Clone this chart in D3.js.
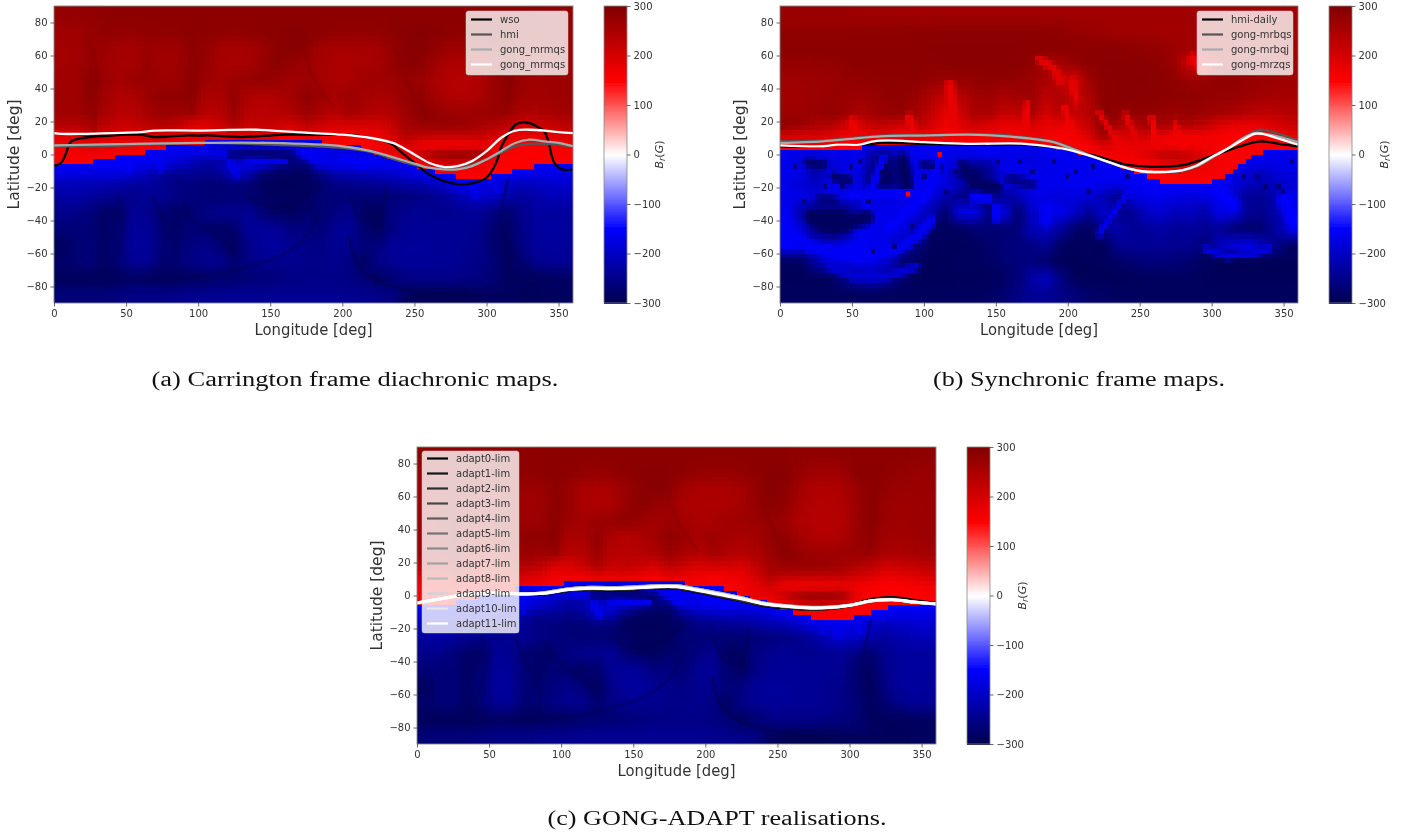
<!DOCTYPE html>
<html><head><meta charset="utf-8">
<script src="https://cdn.jsdelivr.net/npm/d3@7/dist/d3.min.js"></script>
<style>html,body{margin:0;background:#fff}svg{display:block}text{font-family:"DejaVu Sans",sans-serif}</style>
</head><body><svg id="c" width="1422" height="838"></svg>
<script>
// ---------- values ----------
const xTicks=[0,50,100,150,200,250,300,350];
const yTicks=[-80,-60,-40,-20,0,20,40,60,80];
const cbarTicks=[-300,-200,-100,0,100,200,300];
const captions=["(a) Carrington frame diachronic maps.","(b) Synchronic frame maps.","(c) GONG-ADAPT realisations."];
const xLabel="Longitude [deg]", yLabel="Latitude [deg]";

// |Br| in gauss. columns: lon 5,15..355. rows: fieldLats
const fieldLats=[85,75,65,55,45,35,25,18,12,6,0,-6,-12,-18,-25,-35,-45,-55,-65,-75,-85];
const fieldATop=[
[275,278,280,282,284,284,284,284,284,284,284,284,284,284,284,284,284,284,284,284,284,284,284,284,284,284,284,284,284,284,284,284,282,280,278,276],
[262,264,272,280,278,278,280,282,282,286,286,284,282,284,286,288,290,290,286,282,280,280,282,286,290,292,290,286,284,286,288,286,280,275,272,270],
[258,262,272,268,258,258,270,265,265,282,278,258,254,258,268,286,290,284,262,255,255,255,258,275,290,290,278,268,268,274,282,286,278,268,268,268],
[258,262,276,262,255,256,272,262,262,282,274,255,250,255,272,288,276,266,255,250,250,250,256,274,288,286,262,248,246,250,272,286,270,264,266,268],
[262,264,286,270,258,268,274,265,266,286,268,258,268,274,280,270,258,268,258,248,250,264,264,268,274,268,250,240,238,244,268,286,268,264,266,266]];
const fieldCTop=[
[284,284,284,284,284,284,284,284,284,285,285,285,285,285,285,285,285,285,285,285,285,285,285,285,285,285,282,280,280,282,284,284,284,284,282,280],
[268,270,274,280,280,280,282,284,284,286,286,280,275,280,286,288,290,288,284,278,275,275,280,286,290,290,274,264,262,268,286,286,282,278,274,272],
[262,264,272,268,262,262,272,268,268,282,274,252,248,252,268,286,290,284,258,250,250,250,256,275,290,286,262,245,242,248,272,286,278,268,268,272],
[262,264,276,264,258,258,272,264,264,282,272,250,246,250,272,288,276,266,250,248,248,248,256,274,288,282,252,240,240,244,268,286,270,264,266,268],
[264,266,286,270,262,268,274,266,268,286,268,258,268,274,280,270,258,268,258,250,250,262,264,268,274,268,246,238,236,240,268,286,268,264,266,268]];
const fieldACBelow=[
[264,264,286,262,242,246,268,280,282,286,250,250,276,246,240,246,260,282,268,254,268,258,250,258,276,280,258,244,240,250,270,282,262,260,264,268],
[262,260,276,254,235,236,254,268,266,266,235,235,266,235,230,235,246,266,250,234,256,244,235,245,266,286,276,266,266,266,268,266,248,246,252,258],
[238,240,250,232,215,215,232,240,230,195,188,212,246,214,224,214,198,230,212,196,202,202,198,222,258,268,272,272,268,254,244,230,205,212,222,228],
[190,195,220,205,190,195,205,205,190,168,175,170,185,180,185,175,164,185,175,170,158,170,170,205,242,232,226,226,226,226,208,195,175,180,190,200],
[165,170,185,175,170,175,175,170,160,160,165,170,170,175,175,170,165,170,170,158,155,155,165,180,200,165,160,158,160,170,165,160,155,155,160,165],
[160,165,170,165,160,160,158,165,170,175,200,230,270,285,290,290,265,165,165,180,178,165,165,175,175,225,265,280,280,265,175,155,155,155,155,155],
[155,155,155,152,152,158,165,170,190,210,230,215,175,180,185,230,262,262,170,160,160,160,158,158,155,152,190,200,200,180,150,150,150,152,155,155],
[175,175,180,178,178,190,210,235,245,240,250,240,200,210,270,285,285,285,250,220,210,205,205,195,185,165,155,152,150,150,150,150,165,170,170,170],
[210,210,210,215,220,230,230,238,258,258,265,265,258,265,285,288,288,285,272,252,248,242,238,230,220,215,200,172,168,168,178,198,210,200,195,190],
[228,222,232,240,246,246,240,240,254,258,265,268,265,270,278,286,286,286,268,265,265,268,265,265,258,254,244,230,205,190,195,220,230,220,210,210],
[250,250,260,278,278,240,246,268,278,272,255,246,246,240,268,282,286,272,272,258,246,282,286,254,245,240,245,245,240,240,258,272,245,232,232,232],
[265,264,266,282,268,234,236,268,278,265,272,282,272,238,234,240,258,258,265,240,238,268,286,254,240,238,238,240,240,245,272,282,250,232,232,232],
[286,268,265,278,265,234,236,265,272,258,250,265,286,250,232,232,244,250,254,245,245,265,258,238,235,235,238,240,244,250,272,286,254,235,232,235],
[278,268,265,282,265,238,240,272,265,254,246,246,272,254,244,245,245,250,250,245,254,282,250,240,236,236,240,240,244,252,265,286,268,245,238,240],
[286,286,286,288,286,282,284,288,286,284,280,275,270,268,265,258,254,252,252,252,256,265,284,268,254,250,250,250,254,258,268,286,286,286,282,280],
[265,265,265,265,258,254,254,252,250,246,245,242,242,242,242,242,242,242,242,242,245,246,250,258,285,290,292,292,290,286,282,280,288,290,286,286]];
const fieldB=[
[268,268,268,268,268,265,265,264,264,262,262,262,262,262,262,262,262,262,262,262,262,262,262,262,262,262,262,262,262,262,262,262,262,262,262,262],
[280,280,280,280,280,282,282,282,282,284,284,286,286,286,286,286,286,286,282,278,274,270,266,262,262,260,260,260,258,258,258,258,258,258,258,258],
[286,286,286,286,286,286,286,286,286,286,288,288,288,288,288,288,288,286,288,288,286,286,286,286,282,278,274,266,260,256,250,250,256,256,256,256],
[274,274,276,278,282,286,286,286,286,286,286,288,288,288,288,288,286,282,250,258,276,286,288,288,288,286,282,264,205,180,236,264,274,268,266,264],
[266,266,266,268,274,278,280,282,282,284,274,268,276,278,282,280,278,266,255,218,200,264,286,288,288,288,286,278,268,274,278,278,274,268,266,264],
[262,262,266,272,272,266,272,280,282,268,245,218,232,260,266,250,260,266,232,246,218,246,284,288,288,286,286,284,282,278,275,274,264,260,255,255],
[266,266,272,278,266,250,260,274,274,255,222,180,206,250,250,222,222,250,202,232,222,236,286,278,278,278,274,266,272,266,255,246,236,226,232,236],
[278,272,245,245,210,195,226,222,206,240,206,168,190,210,196,175,175,196,175,180,185,222,286,245,240,254,254,245,245,226,195,180,175,180,196,215],
[210,200,205,190,168,168,180,175,168,180,168,162,168,168,168,168,168,175,168,162,162,200,266,195,200,210,180,162,162,168,160,155,155,155,162,180],
[165,165,165,160,158,158,155,158,158,158,158,158,158,155,155,155,158,158,155,155,155,160,200,170,175,170,165,160,160,165,155,155,155,155,155,158],
[170,175,180,168,165,172,235,245,170,165,160,165,175,165,160,170,170,180,165,160,162,158,160,165,170,190,225,230,215,185,160,155,155,160,168,170],
[165,180,235,190,175,165,250,275,230,165,165,170,190,235,225,170,165,175,170,165,160,165,162,158,155,155,170,190,195,175,160,155,165,170,170,170],
[165,170,225,180,165,175,270,285,240,170,165,170,260,285,245,175,170,165,165,165,165,162,160,155,155,152,155,160,165,160,155,175,190,210,185,175],
[170,190,200,170,165,175,262,280,235,170,160,175,200,285,250,180,170,165,165,165,160,160,165,168,160,155,150,150,150,150,158,175,200,215,200,190],
[165,170,185,165,165,180,180,180,170,165,170,215,250,262,270,240,215,175,170,185,175,180,210,240,175,165,165,170,180,170,165,200,235,240,215,165],
[160,225,275,285,280,205,165,165,165,170,215,275,175,165,255,165,270,200,165,165,200,240,190,250,240,200,190,210,200,225,170,175,240,245,220,165],
[155,180,270,285,265,165,165,170,170,220,280,285,285,270,265,270,265,210,200,230,275,285,240,220,240,235,225,240,235,240,240,265,275,270,230,175],
[150,160,165,180,160,155,165,170,225,255,285,288,288,285,275,265,260,255,240,280,288,285,290,245,240,240,240,245,245,265,205,180,165,200,250,280],
[285,285,220,175,170,165,175,190,265,285,290,288,285,285,280,270,260,260,275,290,290,290,285,280,270,262,262,265,270,285,290,290,290,290,290,290],
[290,290,290,285,250,225,215,240,270,288,290,290,288,288,288,285,265,225,205,255,288,290,290,290,290,285,285,285,285,288,290,290,290,290,290,290],
[285,285,285,285,285,285,285,285,285,285,285,285,285,285,280,270,255,240,240,250,265,275,280,285,285,285,285,285,285,285,285,285,285,285,285,285]];

// polarity boundary (lat) at lon 0,10..360
const boundaryA=[-7,-6,-6,-4,-2,0,1,3,5,5.5,6,8.5,8.5,8.5,8.5,8.5,8.5,8.5,8.5,7,6,5,2,-1,-4,-7,-10,-12,-14,-14,-14,-12,-10,-8,-6.5,-6.5,-6.5];
const boundaryB=[3,3,3,3,3,3,5,6,6,6,6,6,6,6,6,6,6,6,6,5,3,1,-2,-5,-8,-12,-15,-18,-18.5,-18.5,-17,-13,-7,0,3,3,3];
const boundaryC=[-7,-6,-6,-4,-2,0,2,5,5,7,7,8.5,8.5,8.5,8.5,8.5,8.5,8.5,8.5,7,6,5,2,-1,-4,-7,-10,-13,-14.5,-14.5,-14.5,-12,-9,-7,-6,-6,-6];

// soft dark structures of the field (lon, lat, value, width px)
const veinsAC=[
 {lon:[205,208,218,235,255,285,320],lat:[-50,-62,-73,-80,-83,-85,-85],v:-295,w:2.4,o:.75},
 {lon:[0,40,80,115,140,160,175,182],lat:[-78,-78,-76,-72,-67,-60,-50,-38],v:-290,w:2.5,o:.55},
 {lon:[45,48,43,35],lat:[-25,-40,-60,-75],v:-285,w:3.5,o:.4},
 {lon:[68,78,85,82],lat:[-25,-45,-60,-75],v:-285,w:3.5,o:.4},
 {lon:[90,95,105,120,125],lat:[-28,-38,-45,-55,-60],v:-290,w:3,o:.5},
 {lon:[135,150,170,185],lat:[-25,-32,-28,-18],v:-295,w:3,o:.5},
 {lon:[205,212,220,228,230],lat:[-25,-38,-42,-35,-20],v:-290,w:3,o:.5},
 {lon:[315,310,318,335,358],lat:[-15,-40,-60,-72,-78],v:-285,w:2.8,o:.55},
 {lon:[28,29,30,24],lat:[12,35,50,70],v:290,w:4,o:.35},
 {lon:[95,98,96],lat:[75,50,25],v:290,w:4,o:.35},
 {lon:[172,178,194],lat:[72,50,28],v:292,w:4,o:.35},
 {lon:[236,246,258],lat:[65,42,22],v:292,w:4,o:.35},
 {lon:[316,318,312],lat:[75,48,25],v:292,w:4,o:.35}];

// fine pixel structures blended into the cell grid (width in degrees)
const pixelsAC=[
 {lon:[135,160],lat:[-4,-4.5],v:-165,w:3},{lon:[122,127],lat:[-5,-12],v:-165,w:3},{lon:[172,182],lat:[3,-3],v:-160,w:7},
 {lon:[100,118],lat:[2,0],v:-170,w:4},{lon:[290,292],lat:[-15,-24],v:-165,w:4},{lon:[305,308],lat:[-13,-22],v:-170,w:4},
 {lon:[278,282],lat:[-17,-22],v:-175,w:3},{lon:[72,74],lat:[0,-9],v:-160,w:3},{lon:[50,52],lat:[-3,-10],v:-155,w:3},
 {lon:[200,215],lat:[-2,-6],v:-155,w:3}];
const pixelsB=[
 {lon:[0,5,20,40,60,80,95,105],lat:[-35,-47,-55,-60,-62,-58,-50,-40],v:-155,w:6},
 {lon:[35,50,75,95],lat:[-68,-74,-74,-68],v:-185,w:4},
 {lon:[75,88,100],lat:[-45,-35,-25],v:-152,w:3},
 {lon:[222,232,243],lat:[-48,-35,-22],v:-165,w:2},
 {lon:[295,310,330,340],lat:[-57,-62,-60,-57],v:-175,w:3},
 {lon:[85,88],lat:[-3,-19],v:-285,w:9},{lon:[20,30],lat:[-5,-6],v:-270,w:5},{lon:[38,48],lat:[-14,-16],v:-275,w:5},
 {lon:[28,38],lat:[-27,-28],v:-260,w:5},{lon:[22,38,60],lat:[-38,-44,-38],v:-285,w:9},{lon:[100,110],lat:[-6,-8],v:-260,w:5},
 {lon:[128,135],lat:[-8,-17],v:-280,w:7},{lon:[142,152],lat:[-19,-20],v:-285,w:5},{lon:[160,175],lat:[-15,-18],v:-250,w:6},
 {lon:[100,112],lat:[-28,-2],v:-152,w:3},{lon:[60,66,72],lat:[-30,-15,-2],v:-152,w:4},{lon:[95,70,50],lat:[-22,-24,-25],v:-152,w:4},
 {lon:[150,150],lat:[-33,-38],v:-150,w:6},{lon:[185,185],lat:[-33,-40],v:-155,w:6},{lon:[135,145],lat:[-26,-27],v:-150,w:5},
 {lon:[305,315],lat:[-22,-30],v:-150,w:8},{lon:[350,358],lat:[-28,-42],v:-150,w:8},
 {lon:[180,190,195],lat:[58,52,45],v:180,w:4},{lon:[203,206],lat:[44,33],v:175,w:3},{lon:[287,296],lat:[58,52],v:170,w:6},
 {lon:[118,122],lat:[42,12],v:175,w:5},{lon:[172,170],lat:[30,12],v:170,w:4},{lon:[198,203],lat:[28,10],v:165,w:3},
 {lon:[222,236],lat:[25,6],v:175,w:2},{lon:[240,250],lat:[24,6],v:180,w:2},{lon:[258,262],lat:[22,5],v:165,w:2},{lon:[275,280],lat:[18,4],v:165,w:2},
 {lon:[90,94],lat:[22,10],v:170,w:5},{lon:[50,54],lat:[20,10],v:170,w:5}];
const speckLonB=[50,70,10,42,100,120,165,175,205,345,350,355,330,338,60,115,90,80,65,30,15,55,125,150,190,200,217,240,215,322];
const speckLatB=[-9,-12,-8,-21,-14,-12,-6,-12,-10,-21,-24,-5,-13,-20,-30,-22,-43,-55,-60,-20,-28,-6,-4,-6,-5,-15,-8,-14,-22,-15];
const spotsB=[{lon:111,lat:0,v:150},{lon:89,lat:-24,v:150}];

// neutral lines
const wsoLon=[0,5,8,10,12,20,30,40,50,60,70,80,90,100,110,120,130,140,150,160,170,180,190,200,210,220,230,235,240,250,260,270,280,290,300,305,308,310,315,320,325,330,335,340,343,345,347,350,355,360];
const wsoLat=[-7,-5,0,5,8,10,11,11.5,12,12,10.5,11,11.5,11.5,11.5,11,10.5,11,11.5,12,12,12,12,12,11.5,10,8,6,2,-5,-12,-16,-18,-17.5,-14,-8,-2,4,12,18,19.5,19,17,14,8,0,-5,-8,-9.5,-9];
const hmiLon=[0,30,50,100,150,200,220,240,260,280,300,310,320,330,340,360];
const hmiLat=[5,5,5.5,7,6,4,1.5,-4,-8,-8.5,-3,1,5,6.5,6.5,5];
const mrmqsGreyLon=[0,100,150,200,220,240,250,260,270,280,290,300,310,320,330,340,350,360];
const mrmqsGreyLat=[5.5,7,7,5,2,-3,-5.5,-8,-9,-9,-7,-3,2,7,9,8,7,5];
const mrmqsWhiteLon=[0,5,20,40,60,70,100,140,160,180,200,220,235,240,250,260,270,280,290,300,310,320,330,340,350,360];
const mrmqsWhiteLat=[13,12.5,12.5,13,13.5,14.5,14.5,15,14,13,12,10,7,5,0,-5,-7.5,-7,-4,2,10,14.5,15,14.5,13.5,13];

const dailyLon=[0,30,40,60,70,100,130,170,190,200,220,240,250,260,280,290,300,310,320,330,335,350,360];
const dailyLat=[5,5,6,6,7,6.5,6,6,4.5,3,-1,-6,-7,-7.5,-6.5,-4,-1,2,5,7.5,8,6,5];
const mrbqsLon=[0,30,50,70,100,110,130,150,170,190,200,220,240,250,260,270,280,290,300,310,320,330,335,345,360];
const mrbqsLat=[8,8.5,10,11.5,12,11.5,12.5,12,10.5,8,5,-2,-8,-10,-11,-11,-10,-7,-2,3,9,14,15,13,8.5];
const mrbqjLon=[0,30,50,70,100,130,150,170,190,200,220,240,250,260,270,280,290,300,310,320,330,340,350,360];
const mrbqjLat=[7,8,9.5,11,11.5,12,11.5,10,7.5,4.5,-2,-8,-10,-11,-10.5,-9.5,-7,-2,3,9,13,12,10,7.5];
const mrzqsLon=[0,30,40,55,65,75,100,130,170,190,200,220,240,250,260,270,280,290,300,310,320,330,335,345,360];
const mrzqsLat=[5.5,5,6,6,8,8.5,7.5,6.5,6.5,4.5,3,-2,-8,-10,-10.5,-10.5,-9.5,-6.5,-1.5,3,8,12.5,12.5,10,6];

const adaptLon=[0,15,30,45,60,75,90,105,120,135,150,165,180,195,210,225,240,255,270,285,300,315,330,345,360];
const adapt0 =[-4.2,-2.0,0.2,1.5,1.7,1.0,1.2,2.8,3.6,3.3,3.7,4.4,4.4,2.0,-0.7,-3.3,-6.1,-7.5,-8.3,-8.1,-6.0,-2.4,-1.2,-3.0,-4.6];
const adapt1 =[-4.4,-2.1,0.1,1.4,1.6,0.9,1.2,3.0,3.7,3.5,3.9,4.5,4.6,2.3,-0.5,-3.1,-5.9,-7.3,-8.2,-8.0,-6.1,-2.8,-1.7,-3.4,-4.8];
const adapt2 =[-4.5,-2.3,0.0,1.3,1.6,0.8,1.3,3.1,3.8,3.6,4.0,4.7,4.7,2.5,-0.3,-2.9,-5.7,-7.2,-8.1,-8.0,-6.1,-3.0,-2.0,-3.7,-4.9];
const adapt3 =[-4.3,-2.2,0.2,1.5,1.5,0.9,1.6,3.6,4.4,4.2,4.6,5.3,5.3,3.1,0.3,-2.3,-5.2,-6.7,-7.6,-7.6,-6.2,-3.3,-2.3,-3.8,-4.8];
const adapt4 =[-4.6,-2.3,0.0,1.2,1.5,0.8,1.8,3.9,4.7,4.5,4.9,5.6,5.6,3.5,0.8,-1.8,-4.8,-6.3,-7.3,-7.2,-6.0,-3.2,-2.5,-4.0,-5.0];
const adapt5 =[-4.5,-2.1,0.1,1.4,1.6,1.0,2.0,4.1,5.0,4.8,5.2,5.9,5.9,3.7,1.1,-1.6,-4.6,-6.2,-7.2,-7.1,-6.0,-3.4,-2.6,-4.1,-5.1];
const adapt6 =[-4.7,-2.4,-0.1,1.2,1.4,0.7,1.9,4.0,5.0,4.8,5.2,5.9,6.0,3.9,1.4,-1.3,-4.3,-6.0,-7.0,-7.0,-6.1,-3.5,-2.7,-4.2,-5.2];
const adapt7 =[-4.4,-2.2,0.2,1.4,1.7,1.1,2.1,4.2,5.1,4.9,5.3,6.0,6.0,3.9,1.4,-1.3,-4.4,-6.0,-7.1,-7.0,-5.9,-3.3,-2.6,-4.1,-5.0];
const adapt8 =[-4.6,-2.3,0.0,1.3,1.5,0.9,1.9,4.0,4.9,4.7,5.1,5.8,5.9,3.8,1.4,-1.3,-4.4,-6.1,-7.1,-7.1,-6.0,-3.4,-2.7,-4.1,-5.1];
const adapt9 =[-4.5,-2.2,0.1,1.4,1.6,1.0,1.6,3.7,4.5,4.3,4.7,5.4,5.5,3.4,1.0,-1.7,-4.8,-6.4,-7.4,-7.3,-5.9,-3.3,-2.6,-4.0,-5.0];
const adapt10=[-4.4,-2.1,0.2,1.5,1.6,1.0,1.6,3.6,4.4,4.2,4.6,5.3,5.4,3.2,0.8,-1.8,-4.9,-6.5,-7.5,-7.4,-6.0,-3.3,-2.5,-4.0,-5.0];
const adapt11=[-4.5,-2.2,0.0,1.3,1.5,0.8,1.5,3.5,4.3,4.1,4.5,5.2,5.2,3.0,0.5,-2.0,-5.0,-6.5,-7.5,-7.4,-6.0,-3.2,-2.5,-4.0,-5.0];

const seriesA=[["wso",wsoLon,wsoLat],["hmi",hmiLon,hmiLat],["gong_mrmqs",mrmqsGreyLon,mrmqsGreyLat],["gong_mrmqs",mrmqsWhiteLon,mrmqsWhiteLat]];
const seriesB=[["hmi-daily",dailyLon,dailyLat],["gong-mrbqs",mrbqsLon,mrbqsLat],["gong-mrbqj",mrbqjLon,mrbqjLat],["gong-mrzqs",mrzqsLon,mrzqsLat]];
const seriesC=[adapt0,adapt1,adapt2,adapt3,adapt4,adapt5,adapt6,adapt7,adapt8,adapt9,adapt10,adapt11].map((a,i)=>["adapt"+i+"-lim",adaptLon,a]);

// ---------- drawing ----------
const svg=d3.select("#c");
const defs=svg.append("defs");
defs.append("filter").attr("id","soft").attr("filterUnits","userSpaceOnUse").attr("x",0).attr("y",0).attr("width",1422).attr("height",838)
  .append("feGaussianBlur").attr("stdDeviation",0.6);
const chart=svg.append("g").attr("filter","url(#soft)");
const seismic=d3.scaleLinear().domain([-300,-150,0,150,300]).range(["#00004d","#0000ff","#ffffff","#ff0000","#800000"]);
const rowIdx=d3.scaleLinear().domain(fieldLats).range(d3.range(fieldLats.length)).clamp(true);
const colIdx=d3.scaleLinear().domain([5,355]).range([0,35]).clamp(true);
function sample(f,lon,lat){
  const r=rowIdx(lat),c=colIdx(lon),r0=Math.floor(r),c0=Math.floor(c);
  const r1=Math.min(r0+1,f.length-1),c1=Math.min(c0+1,35),dr=r-r0,dc=c-c0;
  return (f[r0][c0]*(1-dc)+f[r0][c1]*dc)*(1-dr)+(f[r1][c0]*(1-dc)+f[r1][c1]*dc)*dr;
}
const lonGrid=d3.range(0,360,3), latGrid=d3.range(-90,90,3);
const lonValues=d3.range(0,370,10);

function burn(map,features){
  for(const f of features){
    const R=f.w/2+1.5;
    for(let i=0;i<f.lon.length-1;i++){
      const n=Math.ceil(Math.hypot(f.lon[i+1]-f.lon[i],f.lat[i+1]-f.lat[i]))+1;
      const path=d3.interpolateArray([f.lon[i],f.lat[i]],[f.lon[i+1],f.lat[i+1]]);
      for(let k=0;k<=n;k++){
        const [lo,la]=path(k/n);
        for(const a of lonGrid){
          if(Math.abs(a+1.5-lo)>R) continue;
          for(const b of latGrid){
            const d=Math.hypot(a+1.5-lo,b+1.5-la);
            if(d>R) continue;
            const wt=1-(d/R)*(d/R)*0.85, key=a+"_"+b, old=map.get(key);
            if(!old||wt>old.wt) map.set(key,{v:f.v,wt});
          }
        }
      }
    }
  }
}

function panel(cfg){
  const {id,L,T,W,H,cbL,field,boundary,series,legend,thin,pixels,specks,spots,caption,capX,capY,capLen}=cfg;
  const x=d3.scaleLinear().domain([0,360]).range([L,L+W]);
  const y=d3.scaleLinear().domain([-90,90]).range([T+H,T]);
  const g=chart.append("g");
  defs.append("clipPath").attr("id","clip"+id).append("rect").attr("x",L).attr("y",T).attr("width",W).attr("height",H);
  const plot=g.append("g").attr("clip-path",`url(#clip${id})`);
  const edge=d3.scaleLinear().domain(lonValues).range(boundary);
  const over=new Map(); burn(over,pixels);
  for(const s of specks){ over.set((Math.floor(s[0]/3)*3)+"_"+(Math.floor(s[1]/3)*3),{v:s[2],wt:0.85}); }
  const cells=[];
  for(const lo of lonGrid) for(const la of latGrid){
    const isRed=la+1.5>edge(lo+1.5);
    let m=sample(field,lo+1.5,la+1.5);
    const o=over.get(lo+"_"+la);
    if(o && (o.v>0)===isRed) m+= (Math.abs(o.v)-m)*o.wt;
    cells.push({lo,la,v:isRed?m:-m});
  }
  plot.append("g").attr("shape-rendering","crispEdges").selectAll("rect").data(cells).join("rect")
    .attr("x",d=>x(d.lo)).attr("y",d=>y(d.la+3)).attr("width",d=>x(d.lo+3)-x(d.lo)).attr("height",d=>y(d.la)-y(d.la+3))
    .attr("fill",d=>seismic(d.v));
  const ln=d3.line().x(d=>x(d[0])).y(d=>y(d[1])).curve(d3.curveCatmullRom.alpha(0.5));
  plot.append("g").attr("fill","none").attr("stroke-linecap","round").selectAll("path").data(thin).join("path")
    .attr("d",d=>ln(d3.zip(d.lon,d.lat))).attr("stroke",d=>seismic(d.v)).attr("stroke-width",d=>d.w).attr("opacity",d=>d.o);
  plot.append("g").selectAll("rect").data(spots).join("rect")
    .attr("x",d=>x(d.lon-1.5)).attr("y",d=>y(d.lat+1.5)).attr("width",x(3)-x(0)).attr("height",y(0)-y(3)).attr("fill",d=>seismic(d.v));
  const grey=d3.scaleLinear().domain([0,series.length-1]).range(["#000000","#ffffff"]);
  const lineW=series.length>4?2.8:2.3;
  plot.append("g").attr("fill","none").selectAll("path").data(series).join("path")
    .attr("d",d=>ln(d3.zip(d[1],d[2]))).attr("stroke",(d,i)=>grey(i)).attr("stroke-width",lineW);
  // frame + axes
  g.append("rect").attr("x",L).attr("y",T).attr("width",W).attr("height",H).attr("fill","none").attr("stroke","#888").attr("stroke-width",0.9);
  const ax=g.append("g").attr("transform",`translate(0,${T+H})`).call(d3.axisBottom(x).tickValues(xTicks).tickFormat(d3.format("d")).tickSize(3.5).tickPadding(3));
  const ay=g.append("g").attr("transform",`translate(${L},0)`).call(d3.axisLeft(y).tickValues(yTicks).tickFormat(d3.format("d")).tickSize(3.5).tickPadding(3));
  [ax,ay].forEach(a=>{a.select(".domain").remove();a.selectAll("line").attr("stroke","#444").attr("stroke-width",0.8);
    a.selectAll("text").attr("font-size",10).attr("fill","#333").style("font-family",'"DejaVu Sans",sans-serif');});
  g.append("text").attr("x",L+W/2).attr("y",T+H+32).attr("text-anchor","middle").attr("font-size",15).attr("fill","#333")
    .attr("textLength",118).attr("lengthAdjust","spacingAndGlyphs").text(xLabel);
  g.append("text").attr("transform",`translate(${L-35},${T+H/2}) rotate(-90)`).attr("text-anchor","middle").attr("font-size",15).attr("fill","#333")
    .attr("textLength",110).attr("lengthAdjust","spacingAndGlyphs").text(yLabel);
  // colorbar
  const cy=d3.scaleLinear().domain([-300,300]).range([T+H,T]);
  const cbW=23;
  g.append("g").attr("shape-rendering","crispEdges").selectAll("rect").data(d3.range(-300,300,2)).join("rect")
    .attr("x",cbL).attr("y",d=>cy(d+2)).attr("width",cbW).attr("height",d=>cy(d)-cy(d+2)+0.5).attr("fill",d=>seismic(d+1));
  g.append("rect").attr("x",cbL).attr("y",T).attr("width",cbW).attr("height",H).attr("fill","none").attr("stroke","#888").attr("stroke-width",0.8);
  const ac=g.append("g").attr("transform",`translate(${cbL+cbW},0)`).call(d3.axisRight(cy).tickValues(cbarTicks).tickFormat(d3.format("d")).tickSize(3.5).tickPadding(3));
  ac.select(".domain").remove();ac.selectAll("line").attr("stroke","#444").attr("stroke-width",0.8);
  ac.selectAll("text").attr("font-size",10).attr("fill","#333").style("font-family",'"DejaVu Sans",sans-serif');
  const bl=g.append("text").attr("transform",`translate(${cbL+cbW+36},${T+H/2}) rotate(-90)`).attr("text-anchor","middle").attr("font-size",11).attr("fill","#333");
  bl.append("tspan").attr("font-style","italic").text("B");
  bl.append("tspan").attr("font-style","italic").attr("font-size",8).attr("dy",2).text("r");
  bl.append("tspan").attr("dy",-2).text("(");
  bl.append("tspan").attr("font-style","italic").text("G");
  bl.append("tspan").text(")");
  // legend
  const lg=g.append("g");
  lg.append("rect").attr("x",legend.x).attr("y",legend.y).attr("width",legend.w).attr("height",legend.h).attr("rx",2.5)
    .attr("fill","#fff").attr("fill-opacity",0.8).attr("stroke","#ccc").attr("stroke-opacity",0.6).attr("stroke-width",0.8);
  const rows=lg.selectAll("g").data(series).join("g").attr("transform",(d,i)=>`translate(${legend.x+5},${legend.y+legend.first+i*legend.step})`);
  rows.append("line").attr("x1",0).attr("x2",21).attr("stroke",(d,i)=>grey(i)).attr("stroke-width",2.2);
  rows.append("text").attr("x",legend.tx).attr("y",3.5).attr("font-size",10).attr("fill","#333").text(d=>d[0]);
  // caption (crisp, outside blur)
  svg.append("text").attr("x",capX).attr("y",capY).attr("text-anchor","middle").attr("font-size",20).attr("fill","#111")
    .attr("textLength",capLen).attr("lengthAdjust","spacingAndGlyphs").style("font-family",'"Liberation Serif",serif').text(caption);
}
const specksB=d3.zip(speckLonB,speckLatB).map(p=>[p[0],p[1],-272]);
panel({id:"a",L:54,T:6,W:519,H:297,cbL:604,field:fieldATop.concat(fieldACBelow),boundary:boundaryA,series:seriesA,thin:veinsAC,pixels:pixelsAC,specks:[],spots:[],
  legend:{x:466,y:11,w:102,h:64,first:8.5,step:15,tx:29},caption:captions[0],capX:355,capY:386,capLen:407});
panel({id:"b",L:780,T:6,W:518,H:297,cbL:1329,field:fieldB,boundary:boundaryB,series:seriesB,thin:[],pixels:pixelsB,specks:specksB,spots:spotsB,
  legend:{x:1197,y:11,w:96,h:64,first:8.5,step:15,tx:29},caption:captions[1],capX:1079,capY:386,capLen:292});
panel({id:"c",L:417,T:447,W:519,H:297,cbL:967,field:fieldCTop.concat(fieldACBelow),boundary:boundaryC,series:seriesC,thin:veinsAC,pixels:pixelsAC,specks:[],spots:[],
  legend:{x:422,y:451,w:97,h:182,first:7.5,step:15,tx:29},caption:captions[2],capX:717,capY:825,capLen:339});
</script></body></html>
